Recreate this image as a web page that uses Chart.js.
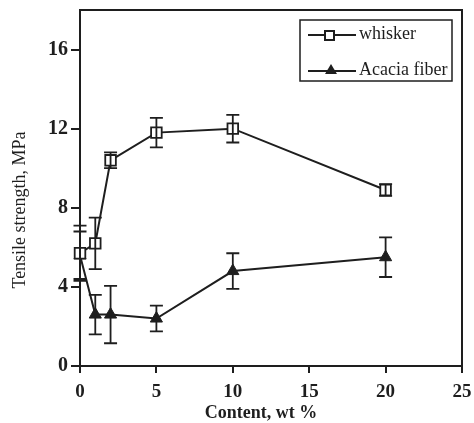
<!DOCTYPE html>
<html>
<head>
<meta charset="utf-8">
<script src="https://cdn.jsdelivr.net/npm/chart.js@4"></script>
<style>
  html, body { margin: 0; padding: 0; background: #fff; }
  #wrap { width: 474px; height: 423px; }
</style>
</head>
<body>
<div id="wrap"><canvas id="myChart" width="474" height="423"></canvas></div>
<script>
// Filler content, wt %
const content = [0, 1, 2, 5, 10, 20];

// Tensile strength, MPa
const whisker = [5.7, 6.2, 10.4, 11.8, 12.0, 8.9];
const whiskerErr = [1.4, 1.3, 0.4, 0.75, 0.7, 0.3];
const acacia = [5.6, 2.6, 2.6, 2.4, 4.8, 5.5];
const acaciaErr = [1.2, 1.0, 1.45, 0.65, 0.9, 1.0];

// Axis ticks
const xTicks = [0, 5, 10, 15, 20, 25];
const yTicks = [0, 4, 8, 12, 16];

const ink = "#1e1e1e";
const serif = "'Liberation Serif', 'DejaVu Serif', serif";

// Pairs x and y values for the chart
function toPoints(ys) {
  return content.map((x, i) => ({ x: x, y: ys[i] }));
}

// Draws error bars, plot frame, legend box and axis titles
const extras = {
  id: "extras",
  afterDatasetsDraw(chart) {
    const ctx = chart.ctx;
    const xs = chart.scales.x;
    const ys = chart.scales.y;
    const errs = [whiskerErr, acaciaErr];
    ctx.save();
    ctx.strokeStyle = ink;
    ctx.lineWidth = 1.8;
    chart.data.datasets.forEach((ds, d) => {
      ds.data.forEach((p, i) => {
        const px = xs.getPixelForValue(p.x);
        const top = ys.getPixelForValue(p.y + errs[d][i]);
        const bot = ys.getPixelForValue(p.y - errs[d][i]);
        ctx.beginPath();
        ctx.moveTo(px, top);
        ctx.lineTo(px, bot);
        ctx.moveTo(px - 6.5, top);
        ctx.lineTo(px + 6.5, top);
        ctx.moveTo(px - 6.5, bot);
        ctx.lineTo(px + 6.5, bot);
        ctx.stroke();
      });
    });
    ctx.restore();
  },
  afterDraw(chart) {
    const ctx = chart.ctx;
    const a = chart.chartArea;
    ctx.save();
    // Plot frame
    ctx.strokeStyle = ink;
    ctx.lineWidth = 2;
    ctx.strokeRect(a.left, a.top, a.right - a.left, a.bottom - a.top);

    // Legend box
    ctx.lineWidth = 1.5;
    ctx.strokeRect(300, 20, 152, 61);
    ctx.lineWidth = 2;
    ctx.beginPath();
    ctx.moveTo(308, 35);
    ctx.lineTo(356, 35);
    ctx.moveTo(308, 71);
    ctx.lineTo(356, 71);
    ctx.stroke();
    ctx.fillStyle = "#fff";
    ctx.fillRect(325, 31, 9, 9);
    ctx.strokeRect(325, 31, 9, 9);
    ctx.fillStyle = ink;
    ctx.beginPath();
    ctx.moveTo(331, 64);
    ctx.lineTo(337, 74);
    ctx.lineTo(325, 74);
    ctx.closePath();
    ctx.fill();
    ctx.font = "18px " + serif;
    ctx.textBaseline = "middle";
    ctx.textAlign = "left";
    ctx.fillText("whisker", 359, 34);
    ctx.fillText("Acacia fiber", 359, 70);

    // Axis titles
    ctx.textAlign = "center";
    ctx.font = "bold 18px " + serif;
    ctx.fillText("Content, wt %", 261, 413);
    ctx.translate(20, 210);
    ctx.rotate(-Math.PI / 2);
    ctx.font = "18px " + serif;
    ctx.fillText("Tensile strength, MPa", 0, 0);
    ctx.restore();
  },
};

const ctx = document.getElementById("myChart").getContext("2d");
const myChart = new Chart(ctx, {
  type: "line",
  data: {
    datasets: [
      {
        label: "whisker",
        data: toPoints(whisker),
        clip: false,
        borderColor: ink,
        borderWidth: 2,
        pointStyle: "rect",
        pointRadius: 7.5,
        pointBorderWidth: 1.8,
        pointBackgroundColor: "#fff",
        pointBorderColor: ink,
      },
      {
        label: "Acacia fiber",
        data: toPoints(acacia),
        clip: false,
        borderColor: ink,
        borderWidth: 2,
        pointStyle: "triangle",
        pointRadius: 7,
        pointBorderWidth: 1,
        pointBackgroundColor: ink,
        pointBorderColor: ink,
      },
    ],
  },
  options: {
    responsive: false,
    animation: false,
    layout: { padding: { top: 10, right: 12, left: 0, bottom: 0 } },
    plugins: {
      legend: { display: false },
      tooltip: { enabled: false },
    },
    scales: {
      x: {
        type: "linear",
        min: 0,
        max: 25,
        afterBuildTicks: (axis) => {
          axis.ticks = xTicks.map((v) => ({ value: v }));
        },
        afterFit: (axis) => {
          axis.height = 57;
          axis.paddingLeft = 0;
          axis.paddingRight = 0;
        },
        grid: {
          drawOnChartArea: false,
          drawTicks: true,
          tickLength: 7,
          color: ink,
          lineWidth: 2,
        },
        border: { display: false },
        ticks: {
          color: ink,
          padding: 8,
          maxRotation: 0,
          font: { family: serif, size: 19, weight: "bold" },
        },
      },
      y: {
        min: 0,
        max: 18,
        afterBuildTicks: (axis) => {
          axis.ticks = yTicks.map((v) => ({ value: v }));
        },
        afterFit: (axis) => {
          axis.width = 80;
          axis.paddingTop = 0;
          axis.paddingBottom = 0;
        },
        grid: {
          drawOnChartArea: false,
          drawTicks: true,
          tickLength: 9,
          color: ink,
          lineWidth: 2,
        },
        border: { display: false },
        ticks: {
          color: ink,
          padding: 3,
          font: { family: serif, size: 20, weight: "bold" },
        },
      },
    },
  },
  plugins: [extras],
});
</script>
</body>
</html>
